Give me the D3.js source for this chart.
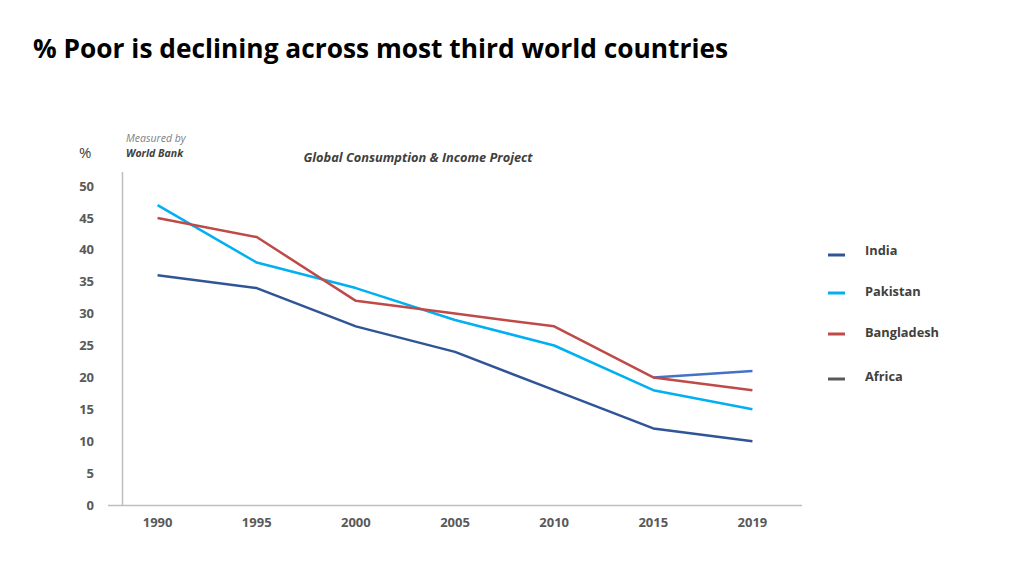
<!DOCTYPE html>
<html><head><meta charset="utf-8">
<script src="https://cdn.jsdelivr.net/npm/d3@7"></script>
<style>body{margin:0;background:#fff}svg{display:block}</style>
</head><body>
<svg id="c" width="1024" height="576"></svg>
<script>
const years = ["1990","1995","2000","2005","2010","2015","2019"];
const india = [36, 34, 28, 24, 18, 12, 10];
const pakistan = [47, 38, 34, 29, 25, 18, 15];
const bangladesh = [45, 42, 32, 30, 28, 20, 18];
const africa = [null, null, null, null, null, 20, 21];
const yTicks = [0,5,10,15,20,25,30,35,40,45,50];
const seriesNames = ["India","Pakistan","Bangladesh","Africa"];

const series = [
  {name:"India", values:india, color:"#2F5597", legend:"#2F5597"},
  {name:"Pakistan", values:pakistan, color:"#00B0F0", legend:"#00B0F0"},
  {name:"Bangladesh", values:bangladesh, color:"#BE4B48", legend:"#BE4B48"},
  {name:"Africa", values:africa, color:"#4472C4", legend:"#595959"}
];
const drawOrder = [3,1,2,0];

const svg = d3.select("#c");
const font = "'Open Sans', sans-serif";

svg.append("text").attr("x",33).attr("y",58)
  .attr("font-family",font).attr("font-weight",700).attr("font-size",26.3)
  .attr("fill","#000").text("% Poor is declining across most third world countries");

const x = d3.scaleBand().domain(years).range([108,802]);
const y = d3.scaleLinear().domain([0,50]).range([505,186]);

svg.append("line").attr("x1",122.5).attr("x2",122.5).attr("y1",172).attr("y2",y(0))
  .attr("stroke","#BFBFBF").attr("stroke-width",1.5);
svg.append("line").attr("x1",108).attr("x2",802).attr("y1",y(0)+0.5).attr("y2",y(0)+0.5)
  .attr("stroke","#BFBFBF").attr("stroke-width",1.5);

const yAxis = d3.axisLeft(y).tickValues(yTicks).tickSize(0).tickPadding(0);
const gy = svg.append("g").attr("transform","translate(94,0)").call(yAxis);
gy.select(".domain").remove();
gy.selectAll("text").attr("font-family",font).attr("font-weight",700).attr("font-size",13).attr("fill","#595959");

const xAxis = d3.axisBottom(x).tickSize(0).tickPadding(0);
const gx = svg.append("g").attr("transform","translate(0,518)").call(xAxis);
gx.select(".domain").remove();
gx.selectAll("text").attr("font-family",font).attr("font-weight",700).attr("font-size",13).attr("fill","#595959");

const line = d3.line().defined(d=>d!=null)
  .x((d,i)=>x(years[i])+x.bandwidth()/2).y(d=>y(d));

drawOrder.forEach(k=>{
  const s = series[k];
  svg.append("path").attr("d", line(s.values)).attr("fill","none")
    .attr("stroke", s.color).attr("stroke-width",2.5).attr("stroke-linejoin","round");
});

svg.append("text").attr("x",79).attr("y",158).attr("font-family",font).attr("font-size",15).attr("fill","#404040").text("%");
svg.append("text").attr("x",126).attr("y",142).attr("font-family",font).attr("font-style","italic").attr("font-size",10.5).attr("fill","#7F7F7F").text("Measured by");
svg.append("text").attr("x",126).attr("y",157).attr("font-family",font).attr("font-style","italic").attr("font-weight",700).attr("font-size",10.5).attr("fill","#404040").text("World Bank");
svg.append("text").attr("x",418).attr("y",162).attr("text-anchor","middle").attr("font-family",font).attr("font-style","italic").attr("font-weight",700).attr("font-size",12.8).attr("fill","#404040").text("Global Consumption & Income Project");

const legY = [255, 293, 334, 379];
const legTextY = [255, 296, 337, 381];
series.forEach((s,i)=>{
  svg.append("line").attr("x1",828).attr("x2",845).attr("y1",legY[i]).attr("y2",legY[i])
    .attr("stroke",s.legend).attr("stroke-width",3);
  svg.append("text").attr("x",865).attr("y",legTextY[i]).attr("font-family",font).attr("font-weight",700)
    .attr("font-size",12.8).attr("fill","#404040").text(seriesNames[i]);
});
</script>
</body></html>
